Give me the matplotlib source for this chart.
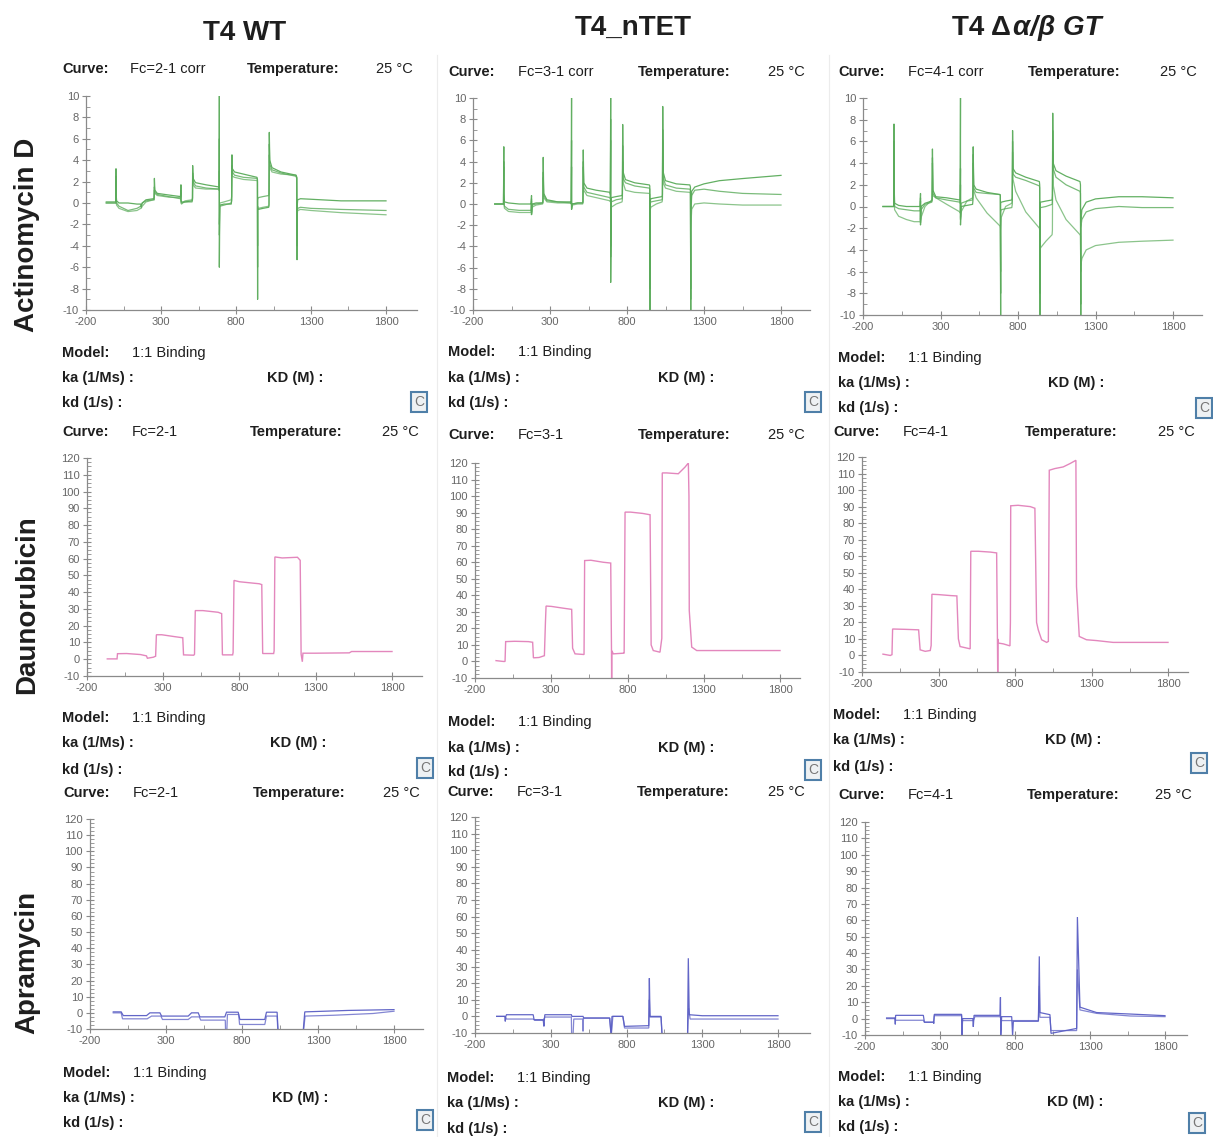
import matplotlib
matplotlib.use("Agg")
import matplotlib.pyplot as plt
from matplotlib.ticker import MultipleLocator, FixedLocator

plt.rcParams['font.family'] = ['Liberation Sans', 'DejaVu Sans']
plt.rcParams['axes.unicode_minus'] = False

# ---------------------------------------------------------------- data
column_titles = ["T4 WT", "T4_nTET", "T4 \u0394", "\u03b1/\u03b2 GT"]
row_titles = ["Actinomycin D", "Daunorubicin", "Apramycin"]
curve_names = [["Fc=2-1 corr", "Fc=3-1 corr", "Fc=4-1 corr"],
               ["Fc=2-1", "Fc=3-1", "Fc=4-1"],
               ["Fc=2-1", "Fc=3-1", "Fc=4-1"]]
x_ticks = [-200, 300, 800, 1300, 1800]

# Actinomycin D, T4 WT (three replicate curves, shared time base, s / RU)
wt_actd_t = [-65, -2, 0, 0, 4, 20, 80, 140, 165, 168,
             175, 200, 250, 254, 256, 259, 275, 350, 430, 433,
             433, 437, 460, 507, 510, 511, 514, 530, 600, 686,
             688, 689, 689, 692, 720, 768, 771, 773, 776, 790,
             850, 940, 943, 944, 944, 948, 980, 1018, 1020, 1022,
             1025, 1040, 1100, 1200, 1205, 1207, 1207, 1211, 1230, 1300,
             1500, 1800]
wt_actd_a = [0.1, 0.1, 3.2, 1.0, 0.2, 0.0, 0.0, -0.1, -0.1, -0.4,
             0.0, 0.3, 0.4, 0.5, 2.3, 1.2, 0.9, 0.75, 0.6, 1.7,
             0.3, 0.1, 0.1, 0.2, 0.4, 3.5, 2.3, 1.9, 1.7, 1.5,
             1.4, 10.0, -6.0, -0.2, -0.1, -0.1, 0.2, 4.5, 3.2, 2.9,
             2.7, 2.4, 2.2, -9.0, -0.5, -0.6, -0.5, -0.4, -0.2, 6.6,
             4.0, 3.3, 2.9, 2.6, 2.4, -5.3, -0.5, 0.3, 0.4, 0.35,
             0.2, 0.2]
wt_actd_b = [0.0, 0.0, 2.5, 0.5, 0.0, -0.3, -0.7, -0.5, -0.3, -0.2,
             0.0, 0.2, 0.3, 0.3, 1.5, 1.0, 0.8, 0.6, 0.4, 1.2,
             0.2, 0.0, 0.1, 0.1, 0.3, 2.8, 2.0, 1.6, 1.4, 1.3,
             1.2, 6.0, -3.0, -0.3, -0.2, 0.0, 0.3, 3.5, 2.9, 2.6,
             2.4, 2.3, 2.1, -6.0, 0.3, 0.5, 0.6, 0.7, 0.8, 5.5,
             3.6, 3.1, 2.8, 2.5, 2.3, -4.0, -1.0, -0.5, -0.4, -0.5,
             -0.6, -0.7]
wt_actd_c = [0.0, 0.0, 2.0, 0.2, -0.2, -0.5, -0.8, -0.7, -0.5, -0.5,
             -0.3, 0.1, 0.3, 0.3, 1.2, 0.9, 0.7, 0.55, 0.5, 1.0,
             0.0, -0.1, 0.2, 0.3, 0.5, 2.5, 1.7, 1.4, 1.3, 1.3,
             1.2, 3.0, -2.0, 0.0, 0.1, 0.3, 0.6, 3.0, 2.5, 2.4,
             2.2, 2.1, 2.0, -4.0, -0.3, -0.5, -0.4, -0.3, -0.1, 4.5,
             3.3, 2.9, 2.7, 2.6, 2.4, -3.0, -1.2, -0.7, -0.6, -0.7,
             -0.9, -1.1]

# Actinomycin D, T4_nTET
ntet_actd_t = [-59, -2, 0, 0, 4, 30, 100, 175, 178, 180,
               180, 184, 210, 252, 254, 256, 259, 280, 350, 436,
               438, 440, 440, 444, 480, 512, 514, 516, 519, 540,
               600, 690, 692, 694, 694, 698, 730, 768, 770, 772,
               775, 790, 850, 945, 948, 950, 950, 955, 990, 1028,
               1030, 1032, 1035, 1050, 1120, 1208, 1212, 1214, 1214, 1220,
               1240, 1300, 1400, 1550, 1800]
ntet_actd_a = [0.0, 0.0, 5.4, 1.0, 0.2, 0.1, 0.0, 0.0, 0.1, 0.8,
               -1.0, 0.0, 0.1, 0.1, 0.3, 4.4, 1.0, 0.4, 0.2, 0.2,
               0.1, 10.0, -0.5, 0.0, 0.1, 0.1, 0.3, 5.1, 2.0, 1.5,
               1.3, 1.1, 0.9, 10.0, -7.4, 0.6, 0.7, 0.8, 1.0, 7.5,
               3.0, 2.3, 2.0, 1.8, 1.7, -10.5, 0.2, 0.5, 0.6, 0.7,
               0.9, 9.2, 3.0, 2.2, 1.9, 1.8, 1.6, -10.5, -1.0, 1.2,
               1.6, 1.9, 2.2, 2.4, 2.7]
ntet_actd_b = [0.0, 0.0, 4.0, 0.5, -0.2, -0.5, -0.6, -0.6, -0.5, 0.5,
               -0.8, -0.1, 0.0, 0.1, 0.2, 3.0, 0.8, 0.3, 0.2, 0.1,
               0.0, 6.0, -0.3, 0.0, 0.1, 0.1, 0.2, 4.0, 1.6, 1.1,
               0.9, 0.6, 0.5, 8.0, -5.0, 0.2, 0.4, 0.5, 0.7, 5.5,
               2.4, 2.0, 1.7, 1.5, 1.4, -8.0, 0.0, 0.2, 0.3, 0.4,
               0.6, 7.0, 2.5, 1.8, 1.5, 1.4, 1.3, -9.0, -1.5, 0.8,
               1.3, 1.4, 1.2, 1.0, 0.9]
ntet_actd_c = [0.0, 0.0, 3.5, 0.3, -0.4, -0.7, -0.8, -0.8, -0.7, 0.3,
               -1.0, -0.3, -0.1, 0.0, 0.1, 2.5, 0.6, 0.2, 0.1, 0.1,
               0.0, 3.5, -0.5, -0.1, 0.0, 0.0, 0.1, 3.5, 1.3, 0.8,
               0.6, 0.3, 0.2, 6.0, -4.0, -0.3, 0.0, 0.2, 0.4, 4.0,
               2.0, 1.3, 1.1, 1.0, 0.9, -6.0, -0.6, -0.3, 0.0, 0.2,
               0.4, 6.0, 2.0, 1.5, 1.2, 1.1, 1.0, -8.0, -2.5, -0.5,
               0.0, 0.1, 0.0, -0.1, -0.1]

# Actinomycin D, T4 delta-alpha/beta GT
gt_actd_t = [-71, -2, 0, 0, 4, 30, 80, 130, 167, 169,
             171, 171, 175, 200, 244, 246, 248, 251, 270, 340,
             425, 427, 429, 429, 433, 470, 507, 509, 511, 514,
             530, 600, 684, 686, 688, 688, 692, 720, 760, 763,
             765, 768, 785, 850, 938, 940, 942, 942, 946, 980,
             1020, 1022, 1024, 1027, 1045, 1110, 1200, 1203, 1205, 1205,
             1212, 1240, 1300, 1450, 1600, 1800]
gt_actd_a = [0.0, 0.0, 7.6, 2.4, 0.3, 0.1, 0.0, 0.0, 0.0, 0.1,
             1.2, -1.7, 0.0, 0.3, 0.5, 0.7, 5.3, 1.5, 0.9, 0.8,
             0.6, 0.6, 10.0, -1.7, 0.0, 0.1, 0.2, 0.5, 5.5, 2.0,
             1.6, 1.3, 1.1, 1.0, -10.5, 0.3, 0.4, 0.5, 0.6, 0.8,
             7.0, 3.5, 3.1, 2.7, 2.3, 2.0, -10.5, 0.3, 0.4, 0.5,
             0.6, 1.0, 8.6, 4.0, 3.3, 2.8, 2.3, 2.0, -10.5, -1.5,
             -0.3, 0.4, 0.7, 0.9, 0.9, 0.8]
gt_actd_b = [0.0, 0.0, 6.0, 1.5, 0.0, -0.2, -0.3, -0.4, -0.4, -0.3,
             0.8, -1.2, -0.3, 0.2, 0.4, 0.6, 4.5, 1.2, 0.8, 0.6,
             0.4, 0.3, 3.5, -1.2, 0.3, 0.5, 0.6, 0.8, 4.8, 1.7,
             1.3, 1.2, 1.1, 1.0, -8.0, -0.5, -0.3, -0.2, -0.1, 0.2,
             6.0, 3.0, 2.7, 2.4, 1.9, 1.7, -8.0, -0.2, -0.1, 0.0,
             0.2, 0.5, 7.0, 3.5, 2.7, 2.0, 1.4, 1.2, -9.0, -2.0,
             -1.2, -0.5, -0.2, 0.0, -0.1, -0.1]
gt_actd_c = [0.0, 0.0, 5.0, 1.0, -0.3, -0.9, -1.2, -1.4, -1.4, -1.4,
             0.5, -1.5, -1.0, 0.0, 0.6, 0.8, 4.0, 1.0, 0.8, 0.2,
             -0.5, -0.6, 2.0, -1.0, -0.5, 0.5, 0.8, 1.0, 4.0, 1.5,
             0.8, -0.6, -1.8, -2.0, -6.0, -2.2, -1.0, 0.0, 0.3, 0.5,
             5.0, 2.5, 1.4, -0.5, -2.0, -2.2, -6.0, -4.0, -3.8, -3.2,
             -2.6, -2.2, 5.0, 2.0, 0.6, -1.2, -2.6, -2.7, -6.0, -5.5,
             -4.8, -4.0, -3.6, -3.3, -3.2, -3.1]

# Daunorubicin (time, response) pairs
wt_dauno = [(-67, 0.2), (-3, 0.2), (0, 3.3), (60, 3.4), (150, 2.8), (190, 2.0),
            (196, 0.6), (235, 1.2), (250, 1.8), (255, 14.6), (290, 14.6),
            (380, 13.4), (428, 12.8), (433, 2.6), (500, 2.4), (505, 3.0),
            (510, 29.0), (560, 29.0), (660, 28.0), (683, 27.2), (688, 2.6),
            (755, 2.6), (758, 4.0), (764, 47.0), (800, 46.2), (930, 45.0),
            (946, 44.5), (952, 3.4), (1024, 3.4), (1027, 5.0), (1032, 61.0),
            (1080, 60.4), (1180, 60.8), (1198, 59.0), (1204, 3.0),
            (1212, -1.5), (1216, 3.6), (1300, 3.6), (1520, 3.8), (1535, 4.6),
            (1800, 4.6)]
ntet_dauno = [(-62, 0.5), (-14, 0.0), (-3, 0.0), (1, 12.0), (60, 12.2),
              (150, 12.0), (178, 11.6), (183, 2.2), (220, 2.4), (255, 3.5),
              (262, 24.0), (266, 33.5), (300, 33.3), (380, 32.2), (434, 31.5),
              (440, 8.0), (456, 4.6), (515, 4.2), (519, 61.0), (560, 61.2),
              (640, 60.0), (690, 59.5), (695, 7.0), (696, -10.5), (697, 6.5),
              (707, 4.6), (773, 5.0), (778, 5.0), (784, 90.3), (820, 90.3),
              (900, 89.5), (948, 88.7), (955, 10.0), (969, 6.6), (1013, 5.6),
              (1025, 14.0), (1028, 114.0), (1057, 114.0), (1133, 113.5),
              (1177, 117.5), (1199, 120.0), (1203, 100.0), (1205, 30.8),
              (1221, 8.7), (1254, 6.6), (1800, 6.6)]
gt_dauno = [(-63, 0.8), (-15, 0.0), (-4, 0.5), (0, 16.0), (80, 15.8),
            (170, 15.5), (180, 3.4), (213, 2.5), (246, 3.0), (252, 6.0),
            (257, 37.0), (300, 36.8), (380, 36.2), (420, 36.0), (430, 10.0),
            (441, 5.4), (507, 4.0), (511, 63.0), (560, 63.0), (640, 62.5),
            (680, 62.0), (685, 12.0), (687, -10.5), (689, 10.0), (691, 7.5),
            (724, 7.0), (767, 5.8), (770, 20.0), (772, 90.5), (820, 90.8),
            (900, 90.0), (930, 89.0), (941, 20.0), (952, 15.5), (974, 9.5),
            (1007, 7.9), (1018, 8.5), (1024, 112.0), (1060, 113.0),
            (1115, 114.0), (1159, 116.0), (1198, 118.0), (1202, 41.7),
            (1220, 11.5), (1267, 9.5), (1333, 9.0), (1441, 7.9), (1800, 7.9)]

# Apramycin (time, response) pairs, two replicate curves per strain
wt_apra_1 = [(-47, 0.6), (5, 0.6), (19, -1.7), (172, -1.7), (194, 0.0),
             (260, 0.0), (271, -2.0), (446, -2.0), (468, 0.0), (512, 0.0),
             (523, -2.5), (687, -2.5), (698, 0.4), (775, 0.4), (786, -4.1),
             (950, -4.1), (961, 0.4), (1031, 0.4), (1038, -12.0),
             (1202, -12.0), (1213, 0.6), (1500, 1.5), (1800, 2.0)]
wt_apra_2 = [(-47, 0.0), (5, 0.0), (14, -3.7), (176, -3.7), (205, -2.0),
             (266, -2.0), (277, -4.1), (446, -4.1), (468, -2.5), (518, -2.5),
             (529, -4.5), (690, -4.5), (692, -12.0), (700, -12.0), (704, -1.0),
             (778, -1.0), (784, -7.2), (950, -7.2), (961, -2.0), (1031, -2.0),
             (1036, -12.0), (1204, -12.0), (1215, -2.0), (1400, -1.5),
             (1662, -0.4), (1800, 1.0)]
ntet_apra_1 = [(-57, 0.0), (-3, 0.0), (0, -3.0), (3, 0.0), (8, 1.0),
               (184, 1.0), (190, -2.0), (250, -2.0), (255, -6.0), (258, -2.0),
               (261, 1.0), (436, 1.0), (440, 0.0), (513, 0.0), (518, -1.0),
               (688, -1.0), (699, -12.0), (704, 0.0), (776, 0.0), (787, -6.0),
               (947, -5.6), (951, 23.0), (955, 0.0), (1028, 0.0),
               (1035, -12.0), (1203, -12.0), (1208, 35.0), (1214, 1.0),
               (1300, 0.4), (1800, 0.4)]
ntet_apra_2 = [(-57, 0.0), (-3, 0.0), (8, -1.6), (184, -1.6), (195, -2.4),
               (250, -2.4), (261, -0.4), (436, -0.4), (438, -12.0),
               (447, -12.0), (452, -1.6), (511, -1.6), (513, -9.0),
               (516, -1.0), (690, -1.0), (699, -12.0), (710, 0.0), (776, 0.0),
               (787, -7.0), (947, -7.0), (951, 10.0), (955, -0.4),
               (1028, -0.4), (1035, -12.0), (1203, -12.0), (1210, 5.0),
               (1220, -1.6), (1800, -1.6)]
gt_apra_1 = [(-56, 0.4), (0, 0.4), (2, -3.5), (4, 2.0), (189, 2.0),
             (196, -2.2), (256, -2.2), (259, -3.0), (262, 2.6), (444, 2.6),
             (446, -10.5), (451, 0.0), (519, 0.0), (522, -5.0), (527, 2.0),
             (700, 2.0), (703, 13.0), (705, -10.5), (711, 1.2), (778, 1.2),
             (784, -10.5), (789, -1.6), (956, -1.6), (962, 38.0), (966, 3.7),
             (1033, 2.4), (1040, -9.0), (1211, -6.0), (1216, 62.0),
             (1233, 7.0), (1344, 3.7), (1567, 2.8), (1800, 1.8)]
gt_apra_2 = [(-56, 0.0), (0, 0.0), (4, -1.0), (189, -1.0), (196, -2.2),
             (256, -2.2), (262, 1.8), (444, 1.8), (446, -1.2), (522, -1.2),
             (533, 1.2), (700, 1.2), (711, -1.2), (784, -1.2), (956, -1.2),
             (962, 20.0), (966, 0.8), (1033, 0.8), (1040, -7.3),
             (1211, -7.3), (1216, 30.0), (1233, 5.3), (1344, 3.2),
             (1567, 1.6), (1800, 1.2)]

# ---------------------------------------------------------------- layout
W, H = 1213, 1137
fig = plt.figure(figsize=(W / 100, H / 100), dpi=100)
fig.patch.set_facecolor('white')


def fx(x):
    return x / W


def fy(y):
    return 1 - y / H


GREEN = '#5aab5a'
PINK = '#e07ab6'
BLUE = '#5a5ec4'
TXT = '#1e1e1e'
TICK = '#8a8a8a'

# axes frame: left px, right px, px of t=1800, px of top value, px of -10
axes_px = [
    [(86, 417, 386, 96, 310), (473, 810, 781, 98, 310), (863, 1202, 1173, 98, 315)],
    [(87, 422, 392, 458, 676), (475, 800, 780, 463, 678), (862, 1188, 1168, 457, 672)],
    [(90, 423, 394, 819, 1029), (475, 810, 778, 817, 1033), (865, 1187, 1165, 822, 1035)],
]
# text block per panel: x0, curve row y, model y, ka y, kd y, KD x, C box x, C box y,
# Fc x, Temperature x, 25 C x
text_px = [
    [(62, 69, 353, 378, 403, 267, 419, 402, 130, 247, 376),
     (448, 72, 352, 378, 403, 658, 813, 402, 518, 638, 768),
     (838, 72, 358, 383, 408, 1048, 1204, 408, 908, 1028, 1160)],
    [(62, 432, 718, 743, 770, 270, 425, 768, 132, 250, 382),
     (448, 435, 722, 748, 772, 658, 813, 770, 518, 638, 768),
     (833, 432, 715, 740, 767, 1045, 1199, 763, 903, 1025, 1158)],
    [(63, 793, 1073, 1098, 1123, 272, 425, 1120, 133, 253, 383),
     (447, 792, 1078, 1103, 1129, 658, 813, 1122, 517, 637, 768),
     (838, 795, 1077, 1102, 1127, 1047, 1197, 1123, 908, 1027, 1155)],
]


def make_axes(geom, ymax, ymajor, yminor):
    left, right, x1800, ytop, ybot = geom
    ax = fig.add_axes([fx(left), fy(ybot), (right - left) / W, (ybot - ytop) / H])
    pps = (x1800 - left) / 2000.0
    ax.set_xlim(-200, -200 + (right - left) / pps)
    ax.set_ylim(-10, ymax)
    for s in ('top', 'right'):
        ax.spines[s].set_visible(False)
    for s in ('left', 'bottom'):
        ax.spines[s].set_color(TICK)
        ax.spines[s].set_linewidth(0.9)
    ax.xaxis.set_major_locator(FixedLocator(x_ticks))
    ax.xaxis.set_minor_locator(FixedLocator([50, 550, 1050, 1550]))
    ax.yaxis.set_major_locator(MultipleLocator(ymajor))
    ax.yaxis.set_minor_locator(MultipleLocator(yminor))
    ax.tick_params(which='major', direction='inout', length=6, width=0.8,
                   color=TICK, labelsize=8, labelcolor='#666666', pad=2)
    ax.tick_params(which='minor', direction='in', length=3, width=0.6, color=TICK)
    ax.set_facecolor('none')
    return ax


def panel_text(r, c):
    x0, yc, ym, yka, ykd, xkd, cbx, cby, xfc, xtemp, x25 = text_px[r][c]
    fs = 10.5
    fig.text(fx(x0), fy(yc), "Curve:", fontsize=fs, weight='bold', color=TXT, va='center')
    fig.text(fx(xfc), fy(yc), curve_names[r][c], fontsize=fs, color=TXT, va='center')
    fig.text(fx(xtemp), fy(yc), "Temperature:", fontsize=fs, weight='bold', color=TXT, va='center')
    fig.text(fx(x25), fy(yc), "25 \u00b0C", fontsize=fs, color=TXT, va='center')
    fig.text(fx(x0), fy(ym), "Model:", fontsize=fs, weight='bold', color=TXT, va='center')
    fig.text(fx(x0 + 70), fy(ym), "1:1 Binding", fontsize=fs, color=TXT, va='center')
    fig.text(fx(x0), fy(yka), "ka (1/Ms) :", fontsize=fs, weight='bold', color=TXT, va='center')
    fig.text(fx(xkd), fy(yka), "KD (M) :", fontsize=fs, weight='bold', color=TXT, va='center')
    fig.text(fx(x0), fy(ykd), "kd (1/s) :", fontsize=fs, weight='bold', color=TXT, va='center')
    fig.text(fx(cbx), fy(cby), "C", fontsize=10, color='#777777', ha='center', va='center',
             bbox=dict(boxstyle='square,pad=0.22', fc='#eef1f3', ec='#4f7fa8', lw=1.5))


def plot_pairs(ax, pts, color, lw=0.9, alpha=0.9):
    ts = [p[0] for p in pts]
    rs = [p[1] for p in pts]
    ax.plot(ts, rs, color=color, lw=lw, alpha=alpha, solid_joinstyle='miter')


# Actinomycin D row
actd_sets = [(wt_actd_t, [wt_actd_a, wt_actd_b, wt_actd_c]),
             (ntet_actd_t, [ntet_actd_a, ntet_actd_b, ntet_actd_c]),
             (gt_actd_t, [gt_actd_a, gt_actd_b, gt_actd_c])]
for c, (tt, curves) in enumerate(actd_sets):
    ax = make_axes(axes_px[0][c], 10, 2, 1)
    for k, rr in enumerate(curves):
        ax.plot(tt, rr, color=GREEN, lw=0.9, alpha=[0.95, 0.8, 0.7][k])
    panel_text(0, c)

# Daunorubicin row
for c, pts in enumerate([wt_dauno, ntet_dauno, gt_dauno]):
    ax = make_axes(axes_px[1][c], 120, 10, 2.5)
    plot_pairs(ax, pts, PINK, lw=1.0)
    panel_text(1, c)

# Apramycin row
for c, pair in enumerate([(wt_apra_1, wt_apra_2), (ntet_apra_1, ntet_apra_2),
                          (gt_apra_1, gt_apra_2)]):
    ax = make_axes(axes_px[2][c], 120, 10, 2.5)
    for k, pts in enumerate(pair):
        plot_pairs(ax, pts, BLUE, lw=0.9, alpha=[0.95, 0.75][k])
    panel_text(2, c)

# Column and row headings
fig.text(fx(245), fy(33), column_titles[0], fontsize=20, weight='bold', color=TXT,
         ha='center', va='center')
fig.text(fx(633), fy(28), column_titles[1], fontsize=20, weight='bold', color=TXT,
         ha='center', va='center')
fig.text(fx(1011), fy(28), column_titles[2], fontsize=20, weight='bold', color=TXT,
         ha='right', va='center')
fig.text(fx(1013), fy(28), column_titles[3], fontsize=20, weight='bold', style='italic',
         color=TXT, ha='left', va='center')
for name, yc in zip(row_titles, [235, 605, 962]):
    fig.text(fx(27), fy(yc), name, fontsize=20, weight='bold', color=TXT,
             rotation=90, ha='center', va='center')

# faint panel separators
for xs in (437, 829):
    fig.add_artist(plt.Line2D([fx(xs), fx(xs)], [fy(55), fy(1137)],
                              color='#ececec', lw=0.8))

fig.savefig("out.png", dpi=100, facecolor='white')
